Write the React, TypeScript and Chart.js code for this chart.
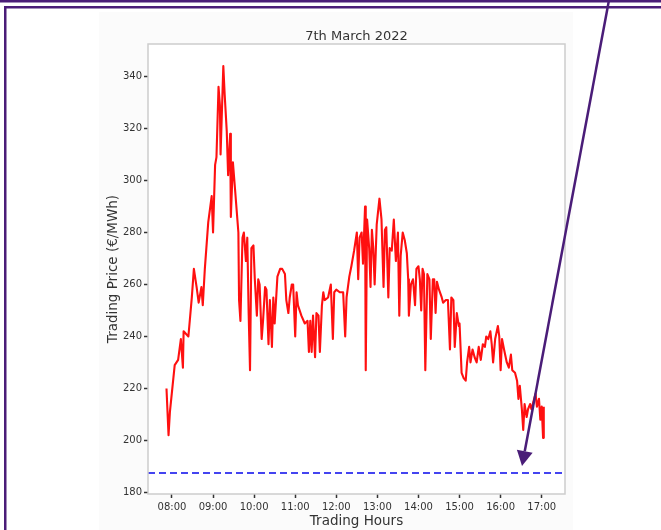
import React, { useEffect, useRef } from 'react';
import { Chart, registerables } from 'chart.js';

Chart.register(...registerables);

const TITLE = '7th March 2022';
const X_LABEL = 'Trading Hours';
const Y_LABEL = 'Trading Price (€/MWh)';

// minutes after midnight
const TIME_MIN = [
  472, 475, 477, 484, 489, 493, 496, 497, 504, 509, 512, 516, 519, 523, 525, 528, 533, 538, 540, 543,
  545, 548, 550, 551, 555, 557, 560, 562, 565, 566, 569, 572, 577, 578, 580, 583, 585, 588, 590, 592,
  594, 596, 599, 601, 604, 606, 608, 611, 613, 616, 618, 621, 623, 626, 628, 630, 634, 638, 641, 645,
  647, 650, 652, 655, 657, 660, 662, 664, 669, 674, 678, 680, 682, 684, 686, 689, 691, 694, 696, 699,
  701, 703, 708, 712, 715, 717, 720, 725, 730, 733, 735, 739, 742, 746, 750, 752, 754, 757, 759, 762,
  763, 765, 768, 770, 772, 774, 776, 779, 783, 786, 789, 791, 793, 796, 798, 801, 804, 807, 810, 812,
  814, 817, 820, 823, 825, 826, 829, 832, 835, 837, 840, 842, 844, 846, 848, 850, 853, 856, 858, 861,
  863, 865, 867, 870, 874, 876, 880, 883, 886, 888, 891, 893, 896, 899, 900, 903, 906, 909, 911, 914,
  916, 919, 922, 925, 928, 931, 934, 937, 939, 942, 945, 947, 949, 952, 956, 958, 960, 962, 965, 969,
  972, 975, 977, 981, 984, 986, 988, 991, 993, 995, 998, 1000, 1003, 1005, 1009, 1011, 1013, 1016, 1018, 1020,
  1022, 1023,
];

// €/MWh
const PRICE = [
  220, 202, 211, 229, 231, 239, 228, 242, 240, 255, 266, 259, 253, 259, 252, 266, 284, 294, 280, 306,
  309, 336, 329, 310, 344, 333, 319, 302, 318, 286, 307, 297, 280, 254, 246, 278, 280, 269, 278, 249,
  227, 274, 275, 262, 248, 262, 260, 239, 246, 259, 258, 237, 254, 236, 255, 245, 263, 266, 266, 264,
  254, 249, 255, 260, 260, 240, 257, 252, 248, 245, 246, 234, 246, 234, 248, 232, 249, 248, 234, 252,
  257, 254, 255, 260, 239, 257, 258, 257, 257, 240, 255, 263, 267, 273, 280, 262, 278, 280, 268, 290,
  227, 285, 274, 259, 281, 274, 260, 283, 293, 285, 259, 281, 282, 255, 274, 273, 285, 269, 280, 248,
  271, 280, 277, 272, 262, 248, 260, 262, 252, 266, 267, 262, 250, 266, 264, 227, 264, 262, 239, 262,
  262, 249, 261, 258, 255, 253, 254, 254, 235, 255, 254, 236, 249, 244, 245, 226, 224, 223, 230, 236,
  230, 235, 232, 230, 236, 231, 237, 236, 240, 239, 242, 237, 230, 239, 244, 240, 227, 239, 235, 230,
  228, 233, 227, 226, 223, 216, 221, 212, 204, 214, 209, 212, 214, 212, 216, 218, 213, 216, 208, 213,
  201, 213,
];

const REFERENCE_PRICE = 187.5;
const X_RANGE = [445, 1054];
const Y_RANGE = [179.4, 352.5];
const X_TICKS = [480, 540, 600, 660, 720, 780, 840, 900, 960, 1020];
const Y_TICKS = [180, 200, 220, 240, 260, 280, 300, 320, 340];

const FONT = 'DejaVu Sans';

function fmtTime(m: number): string {
  const h = Math.floor(m / 60);
  const mm = Math.round(m - h * 60);
  return String(h).padStart(2, '0') + ':' + String(mm).padStart(2, '0');
}

const framePlugin = {
  id: 'frame',
  beforeDraw(chart: any) {
    const { ctx, chartArea } = chart;
    ctx.save();
    ctx.fillStyle = '#ffffff';
    ctx.fillRect(chartArea.left, chartArea.top, chartArea.right - chartArea.left, chartArea.bottom - chartArea.top);
    ctx.restore();
  },
  afterDraw(chart: any) {
    const { ctx, chartArea } = chart;
    ctx.save();
    ctx.strokeStyle = '#cdcdcd';
    ctx.lineWidth = 1.5;
    ctx.strokeRect(chartArea.left, chartArea.top, chartArea.right - chartArea.left, chartArea.bottom - chartArea.top);
    ctx.restore();
  },
};

function ChartView() {
  const ref = useRef<HTMLCanvasElement | null>(null);
  useEffect(() => {
    if (!ref.current) return;
    const series = TIME_MIN.map((t, i) => ({ x: t, y: PRICE[i] }));
    const refLine = X_RANGE.map((x) => ({ x, y: REFERENCE_PRICE }));
    const chart = new Chart(ref.current, {
      type: 'line',
      data: {
        datasets: [
          {
            data: series,
            borderColor: '#ff1010',
            borderWidth: 2.1,
            pointRadius: 0,
            tension: 0,
            borderJoinStyle: 'round',
          } as any,
          {
            data: refLine,
            borderColor: '#4444f0',
            borderWidth: 2,
            borderDash: [7, 4],
            pointRadius: 0,
          } as any,
        ],
      },
      options: {
        animation: false,
        responsive: false,
        devicePixelRatio: 1,
        layout: { padding: { left: 0, right: 96, top: 0, bottom: 0 } },
        plugins: {
          legend: { display: false },
          tooltip: { enabled: false },
          title: {
            display: true,
            text: TITLE,
            fullSize: false,
            color: '#333',
            font: { family: FONT, size: 13, weight: 'normal' },
            padding: { top: 28.4, bottom: 0 },
          },
        },
        scales: {
          x: {
            type: 'linear',
            min: X_RANGE[0],
            max: X_RANGE[1],
            afterBuildTicks: (s: any) => {
              s.ticks = X_TICKS.map((v) => ({ value: v }));
            },
            afterFit: (s: any) => {
              s.height = 36;
            },
            ticks: {
              autoSkip: false,
              maxRotation: 0,
              padding: 3,
              color: '#333',
              font: { family: FONT, size: 10 },
              callback: (v: any) => fmtTime(Number(v)),
            },
            grid: { drawOnChartArea: false, drawTicks: true, tickLength: 4, tickColor: '#333', tickWidth: 1.5 },
            border: { display: false },
            title: {
              display: true,
              text: X_LABEL,
              color: '#333',
              font: { family: FONT, size: 13.5 },
              padding: { top: 0, bottom: 0 },
            },
          },
          y: {
            type: 'linear',
            min: Y_RANGE[0],
            max: Y_RANGE[1],
            afterBuildTicks: (s: any) => {
              s.ticks = Y_TICKS.map((v) => ({ value: v }));
            },
            afterFit: (s: any) => {
              s.width = 148;
            },
            ticks: {
              autoSkip: false,
              padding: 2,
              color: '#333',
              font: { family: FONT, size: 10 },
            },
            grid: { drawOnChartArea: false, drawTicks: true, tickLength: 4, tickColor: '#333', tickWidth: 1.5 },
            border: { display: false },
            title: {
              display: true,
              text: Y_LABEL,
              color: '#333',
              font: { family: FONT, size: 13.5 },
              padding: { top: 105, bottom: 0 },
            },
          },
        },
      },
      plugins: [framePlugin],
    });
    return () => chart.destroy();
  }, []);
  return <canvas ref={ref} width={661} height={530} style={{ position: 'absolute', left: 0, top: 0 }} />;
}

// Annotation overlay geometry (frame + arrow)
const ARROW_FROM = [609, 0];
const ARROW_TIP = [522, 466];

function Overlay() {
  const [x0, y0] = ARROW_FROM;
  const [x1, y1] = ARROW_TIP;
  const dx = x1 - x0;
  const dy = y1 - y0;
  const len = Math.hypot(dx, dy);
  const ux = dx / len;
  const uy = dy / len;
  const headLen = 15;
  const headHalf = 8;
  const bx = x1 - ux * headLen;
  const by = y1 - uy * headLen;
  const px = -uy;
  const py = ux;
  const head = `${x1},${y1} ${bx + px * headHalf},${by + py * headHalf} ${bx - px * headHalf},${by - py * headHalf}`;
  const purple = '#4a1d78';
  return (
    <svg width={661} height={530} style={{ position: 'absolute', left: 0, top: 0, pointerEvents: 'none' }}>
      <rect x={0} y={0} width={661} height={2.5} fill={purple} />
      <rect x={4} y={6} width={657} height={2.5} fill={purple} />
      <rect x={4} y={6} width={2.5} height={524} fill={purple} />
      <line x1={x0} y1={y0} x2={bx} y2={by} stroke={purple} strokeWidth={2.5} />
      <polygon points={head} fill={purple} />
    </svg>
  );
}

export default function App() {
  return (
    <div style={{ position: 'absolute', left: 0, top: 0, width: 661, height: 530, background: '#ffffff', overflow: 'hidden' }}>
      <div style={{ position: 'absolute', left: 99, top: 12, width: 474, height: 518, background: '#fbfbfb' }} />
      <ChartView />
      <Overlay />
    </div>
  );
}
